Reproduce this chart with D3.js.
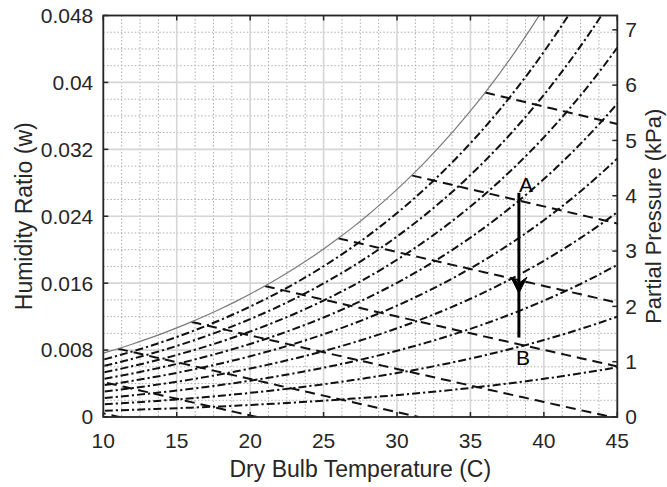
<!DOCTYPE html>
<html>
<head>
<meta charset="utf-8">
<script src="https://cdn.jsdelivr.net/npm/d3@7"></script>
<style>
  html, body { margin: 0; padding: 0; background: #fff; }
  svg { display: block; font-family: "Liberation Sans", Arial, Helvetica, sans-serif; }
</style>
</head>
<body>
<svg id="chart" width="667" height="487"></svg>
<script>
// Saturation vapour pressure of water (kPa) at whole degrees C
const tempC = [0,1,2,3,4,5,6,7,8,9,10,11,12,13,14,15,16,17,18,19,20,21,22,23,24,25,26,27,28,29,30,31,32,33,34,35,36,37,38,39,40,41,42,43,44,45];
const psatKPa = [0.6113,0.6571,0.7060,0.7581,0.8135,0.8725,0.9353,1.0021,1.0730,1.1482,
  1.2282,1.3129,1.4028,1.4981,1.5989,1.7057,1.8188,1.9383,2.0647,2.1982,
  2.3392,2.4881,2.6452,2.8109,2.9856,3.1697,3.3637,3.5679,3.7828,4.0089,
  4.2467,4.4966,4.7592,5.0351,5.3247,5.6286,5.9475,6.2818,6.6324,6.9997,
  7.3844,7.7873,8.2090,8.6503,9.1118,9.5944];

// Relative humidity levels drawn as dash-dot curves (saturation is the solid line)
const rhLevels = [0.1,0.2,0.3,0.4,0.5,0.6,0.7,0.8,0.9];

// Constant-enthalpy lines, each leaving the saturation curve at these temperatures
const enthalpyStartT = [1,6,11,16,21,26,31,36];

// Process A -> B (cooling/dehumidifying at constant dry bulb)
const processT = 38.3;
const processW = [0.0268, 0.0095];
const processHeadW = 0.0148;
const processLabels = ["A", "B"];

// Axis ticks
const xTicks = [10,15,20,25,30,35,40,45];
const wTicks = [0,0.008,0.016,0.024,0.032,0.04,0.048];
const wTickLabels = ["0","0.008","0.016","0.024","0.032","0.04","0.048"];
const pTicks = [0,1,2,3,4,5,6,7];

const pAtm = 101.325;
const wMax = 0.048;

const svg = d3.select("#chart");
const L = 103.3, R = 617.3, T = 15.5, B = 417;
const axisColor = "#262626";

const x = d3.scaleLinear().domain([10,45]).range([L,R]);
const y = d3.scaleLinear().domain([0,wMax]).range([B,T]);
const pMax = pAtm * wMax / (0.622 + wMax);
const yP = d3.scaleLinear().domain([0,pMax]).range([B,T]);

const humidityRatio = p => 0.622 * p / (pAtm - p);

// clip
svg.append("defs").append("clipPath").attr("id","plot")
  .append("rect").attr("x",L).attr("y",T).attr("width",R-L).attr("height",B-T);

// minor grid
const gGrid = svg.append("g");
const xMinor = d3.range(10, 45.001, 1.25).filter(v => Math.abs(v/5 - Math.round(v/5)) > 1e-6);
const wMinor = d3.range(0, wMax+1e-9, 0.002).filter(v => Math.abs(v/0.008 - Math.round(v/0.008)) > 1e-6);
gGrid.selectAll(".xm").data(xMinor).enter().append("line")
  .attr("x1",d=>x(d)).attr("x2",d=>x(d)).attr("y1",T).attr("y2",B)
  .attr("stroke","#adadad").attr("stroke-width",1).attr("stroke-dasharray","1.5,2");
gGrid.selectAll(".wm").data(wMinor).enter().append("line")
  .attr("x1",L).attr("x2",R).attr("y1",d=>y(d)).attr("y2",d=>y(d))
  .attr("stroke","#adadad").attr("stroke-width",1).attr("stroke-dasharray","1.5,2");
// major grid
gGrid.selectAll(".xM").data(xTicks).enter().append("line")
  .attr("x1",d=>x(d)).attr("x2",d=>x(d)).attr("y1",T).attr("y2",B)
  .attr("stroke","#d6d6d6").attr("stroke-width",1.6);
gGrid.selectAll(".wM").data(wTicks).enter().append("line")
  .attr("x1",L).attr("x2",R).attr("y1",d=>y(d)).attr("y2",d=>y(d))
  .attr("stroke","#d6d6d6").attr("stroke-width",1.6);

const gCurves = svg.append("g").attr("clip-path","url(#plot)");
const line = d3.line().x(d=>x(d[0])).y(d=>y(d[1])).curve(d3.curveMonotoneX);

// relative humidity curves
const rows = tempC.map((t,i) => ({t, ps: psatKPa[i]})).filter(r => r.t >= 9);
rhLevels.forEach(phi => {
  const pts = rows.map(r => [r.t, humidityRatio(phi * r.ps)]);
  gCurves.append("path").attr("d", line(pts))
    .attr("fill","none").attr("stroke","#111").attr("stroke-width",2)
    .attr("stroke-dasharray","8,3,2.2,3");
});

// constant-enthalpy lines
const wsat = t => humidityRatio(psatKPa[tempC.indexOf(t)]);
enthalpyStartT.forEach(ts => {
  const ws = wsat(ts);
  const h = 1.006*ts + ws*(2501 + 1.86*ts);
  const tEnd = h / 1.006;
  const ts2 = d3.range(ts, tEnd, 0.5).concat([tEnd]);
  const pts = ts2.map(t => [t, Math.max(0, (h - 1.006*t)/(2501 + 1.86*t))]);
  gCurves.append("path").attr("d", d3.line().x(d=>x(d[0])).y(d=>y(d[1]))(pts))
    .attr("fill","none").attr("stroke","#111").attr("stroke-width",2)
    .attr("stroke-dasharray","10,6");
});

// saturation curve
gCurves.append("path")
  .attr("d", line(rows.map(r => [r.t, humidityRatio(r.ps)])))
  .attr("fill","none").attr("stroke","#7a7a7a").attr("stroke-width",1.2);

// process arrow
const ax = x(processT);
svg.append("line").attr("x1",ax).attr("x2",ax)
  .attr("y1",y(processW[0])).attr("y2",y(processW[1]))
  .attr("stroke","#000").attr("stroke-width",3);
const hy = y(processHeadW);
svg.append("path")
  .attr("d",`M${ax-8},${hy-16} L${ax},${hy} L${ax+8},${hy-16} L${ax},${hy-10} Z`)
  .attr("fill","#000").attr("stroke","#000").attr("stroke-width",1);
svg.append("text").attr("x",ax+7).attr("y",y(processW[0])-1)
  .attr("text-anchor","middle").attr("font-size",21).attr("fill","#000").text(processLabels[0]);
svg.append("text").attr("x",ax+4).attr("y",y(processW[1])+27)
  .attr("text-anchor","middle").attr("font-size",21).attr("fill","#000").text(processLabels[1]);

// axes frame and ticks
const gAx = svg.append("g").attr("stroke",axisColor);
gAx.append("rect").attr("x",L).attr("y",T).attr("width",R-L).attr("height",B-T)
  .attr("fill","none").attr("stroke-width",1.8);
const tl = 5;
xTicks.forEach(v => {
  gAx.append("line").attr("x1",x(v)).attr("x2",x(v)).attr("y1",B).attr("y2",B-tl).attr("stroke-width",1.5);
  gAx.append("line").attr("x1",x(v)).attr("x2",x(v)).attr("y1",T).attr("y2",T+tl).attr("stroke-width",1.5);
});
wTicks.forEach(v => {
  gAx.append("line").attr("x1",L).attr("x2",L+tl).attr("y1",y(v)).attr("y2",y(v)).attr("stroke-width",1.5);
});
pTicks.forEach(v => {
  gAx.append("line").attr("x1",R).attr("x2",R-tl).attr("y1",yP(v)).attr("y2",yP(v)).attr("stroke-width",1.5);
});

// tick labels
const gT = svg.append("g").attr("fill",axisColor).attr("font-size",21);
gT.selectAll(".xl").data(xTicks).enter().append("text")
  .attr("x",d=>x(d)).attr("y",448).attr("text-anchor","middle").text(d=>d);
gT.selectAll(".wl").data(wTicks).enter().append("text")
  .attr("x",L-10).attr("y",d=>y(d)).attr("dy","0.35em").attr("text-anchor","end")
  .text((d,i)=>wTickLabels[i]);
gT.selectAll(".pl").data(pTicks).enter().append("text")
  .attr("x",R+8).attr("y",d=>yP(d)).attr("dy","0.35em").attr("text-anchor","start").text(d=>d);

// axis titles
svg.append("text").attr("x",(L+R)/2).attr("y",477).attr("text-anchor","middle")
  .attr("font-size",23).attr("fill",axisColor).text("Dry Bulb Temperature (C)");
svg.append("text").attr("transform",`translate(32,${(T+B)/2}) rotate(-90)`)
  .attr("text-anchor","middle").attr("font-size",23).attr("fill",axisColor).text("Humidity Ratio (w)");
svg.append("text").attr("transform",`translate(661,${(T+B)/2}) rotate(-90)`)
  .attr("text-anchor","middle").attr("font-size",22).attr("fill",axisColor).text("Partial Pressure (kPa)");
</script>
</body>
</html>
